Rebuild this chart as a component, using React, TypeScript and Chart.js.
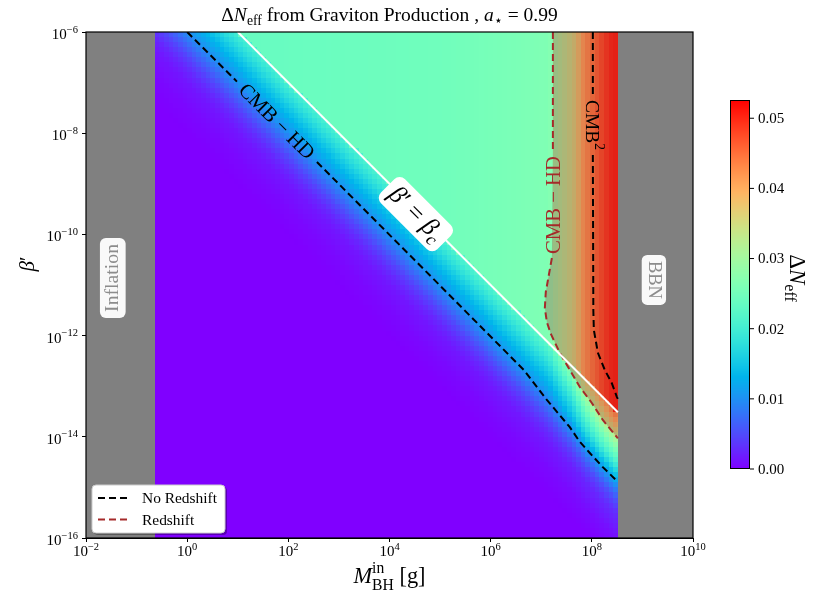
import { useEffect, useRef } from "react";
import { Chart, registerables } from "chart.js";

Chart.register(...registerables);

// ---------------- data ----------------
const xTickExps = [-2, 0, 2, 4, 6, 8, 10];
const yTickExps = [-16, -14, -12, -10, -8, -6];
const cbTickValues = [0.0, 0.01, 0.02, 0.03, 0.04, 0.05];
const cbMax = 0.0526;

// excluded bands, log10(M / g)
const inflationLogM = [-2, -0.64];
const bbnLogM = [8.514, 10];

// heat-map grid extent (log10) and resolution
const gridLogM = [-0.64, 8.514];
const gridLogBeta = [-16, -6];
const gridCols = 100;
const gridRows = 100;

// saturated ΔNeff (β' ≥ βc) along M
const satLogM = [-0.64, 1, 3, 5, 6.5, 7.1, 7.2, 7.3, 7.45, 7.58, 7.7, 7.8, 7.92, 8.05, 8.2, 8.35, 8.514];
const satDN = [0.0231, 0.0237, 0.0242, 0.0247, 0.0258, 0.0263, 0.0268, 0.0289, 0.031, 0.0331, 0.0358, 0.0395, 0.0421, 0.0447, 0.0473, 0.05, 0.051];

// fall-off below βc: depth in decades of β' vs fraction of the saturated value
const depthDec = [0, 0.1, 0.3, 0.5, 0.75, 1.0, 1.25, 1.5, 1.75, 2.0, 2.5, 3.0];
const depthFrac = [0.86, 0.82, 0.73, 0.63, 0.52, 0.42, 0.3, 0.19, 0.11, 0.06, 0.02, 0];

// β' = βc line
const betaCLogM = [1.0, 8.514];
const betaCLogB = [-6.0, -13.514];

// CMB-HD, no redshift (two pieces around the inline label)
const hdNoRsALogM = [0.0, 0.984];
const hdNoRsALogB = [-6.0, -6.98];
const hdNoRsBLogM = [2.565, 4.6, 6.656, 7.111, 7.565, 7.763, 7.96, 8.217, 8.514];
const hdNoRsBLogB = [-8.57, -10.61, -12.68, -13.27, -13.81, -14.1, -14.32, -14.6, -14.89];

// CMB², no redshift
const cmb2ALogM = [8.02, 8.02];
const cmb2ALogB = [-6.0, -7.245];
const cmb2BLogM = [8.02, 8.03, 8.04, 8.12, 8.257, 8.395, 8.494, 8.514];
const cmb2BLogB = [-8.43, -11.5, -11.89, -12.34, -12.68, -12.94, -13.21, -13.25];

// CMB-HD, with redshift
const hdRsALogM = [7.23, 7.23];
const hdRsALogB = [-6.0, -8.37];
const hdRsBLogM = [7.21, 7.15, 7.09, 7.071, 7.111, 7.19, 7.368, 7.565, 7.763, 8.0, 8.217, 8.494, 8.514];
const hdRsBLogB = [-10.466, -10.802, -11.138, -11.455, -11.731, -11.968, -12.344, -12.68, -13.016, -13.332, -13.668, -14.004, -14.03];

const legendLabels = ["No Redshift", "Redshift"];

// ---------------- helpers ----------------
const BLACK = "#000000";
const BROWN = "#a52a2a";
const SERIF = '"Liberation Serif", "DejaVu Serif", serif';

function pts(lm: number[], lb: number[]) {
  return lm.map((m, i) => ({ x: Math.pow(10, m), y: Math.pow(10, lb[i]) }));
}

function interp(xs: number[], ys: number[], v: number, extrap = false) {
  const n = xs.length;
  if (!extrap) {
    if (v <= xs[0]) return ys[0];
    if (v >= xs[n - 1]) return ys[n - 1];
  }
  let i = 0;
  while (i < n - 2 && v > xs[i + 1]) i++;
  const t = (v - xs[i]) / (xs[i + 1] - xs[i]);
  return ys[i] + t * (ys[i + 1] - ys[i]);
}

function rainbow(t: number) {
  t = Math.max(0, Math.min(1, t));
  const r = Math.min(1, Math.abs(2 * t - 0.5));
  const g = Math.max(0, Math.sin(Math.PI * t));
  const b = Math.max(0, Math.cos((Math.PI * t) / 2));
  return `rgb(${Math.round(r * 255)},${Math.round(g * 255)},${Math.round(b * 255)})`;
}

type Seg = { t: string; it?: boolean; sc?: number; dy?: number; t2?: string; dy2?: number };

function segFont(s: Seg, size: number) {
  return `${s.it ? "italic " : ""}${(size * (s.sc ?? 1)).toFixed(2)}px ${SERIF}`;
}
function segWidth(ctx: any, s: Seg, size: number) {
  ctx.font = segFont(s, size);
  let w = ctx.measureText(s.t).width;
  if (s.t2) w = Math.max(w, ctx.measureText(s.t2).width);
  return w;
}
function richWidth(ctx: any, segs: Seg[], size: number) {
  let w = 0;
  for (const s of segs) w += segWidth(ctx, s, size);
  return w;
}
function fitSize(ctx: any, segs: Seg[], target: number) {
  return (16 * target) / richWidth(ctx, segs, 16);
}

function drawRich(
  ctx: any,
  segs: Seg[],
  x: number,
  y: number,
  size: number,
  o: { rot?: number; align?: string; color?: string; middle?: boolean; box?: { fill: string; padX: number; padY: number } } = {}
) {
  ctx.save();
  ctx.translate(x, y);
  ctx.rotate(o.rot ?? 0);
  const w = richWidth(ctx, segs, size);
  let cx = o.align === "right" ? -w : o.align === "left" ? 0 : -w / 2;
  const by = o.middle ? size * 0.33 : 0;
  if (o.box) {
    const h = size * 1.1 + 2 * o.box.padY;
    ctx.beginPath();
    ctx.roundRect(cx - o.box.padX, -h / 2 + size * 0.05, w + 2 * o.box.padX, h, size * 0.3);
    ctx.fillStyle = o.box.fill;
    ctx.fill();
  }
  ctx.fillStyle = o.color ?? BLACK;
  ctx.textAlign = "left";
  ctx.textBaseline = "alphabetic";
  for (const s of segs) {
    ctx.font = segFont(s, size);
    ctx.fillText(s.t, cx, by + (s.dy ?? 0) * size);
    if (s.t2) ctx.fillText(s.t2, cx, by + (s.dy2 ?? 0) * size);
    cx += segWidth(ctx, s, size);
  }
  ctx.restore();
}

const expStr = (e: number) => (e < 0 ? "\u2212" + Math.abs(e) : String(e));

// ---------------- plugins ----------------
const heatPlugin = {
  id: "heat",
  beforeDatasetsDraw(chart: any) {
    const { ctx, chartArea: a, scales } = chart;
    const xs = scales.x;
    const ys = scales.y;
    ctx.save();
    ctx.beginPath();
    ctx.rect(a.left, a.top, a.right - a.left, a.bottom - a.top);
    ctx.clip();

    ctx.fillStyle = "#808080";
    for (const band of [inflationLogM, bbnLogM]) {
      const p0 = Math.round(xs.getPixelForValue(Math.pow(10, band[0])));
      const p1 = Math.round(xs.getPixelForValue(Math.pow(10, band[1])));
      ctx.fillRect(p0, a.top, p1 - p0, a.bottom - a.top);
    }

    const m0 = gridLogM[0];
    const dm = (gridLogM[1] - gridLogM[0]) / gridCols;
    const b0 = gridLogBeta[0];
    const db = (gridLogBeta[1] - gridLogBeta[0]) / gridRows;
    for (let i = 0; i < gridCols; i++) {
      const lm = m0 + (i + 0.5) * dm;
      const sat = interp(satLogM, satDN, lm);
      const lbc = interp(betaCLogM, betaCLogB, lm, true);
      const px0 = Math.round(xs.getPixelForValue(Math.pow(10, m0 + i * dm)));
      const px1 = Math.round(xs.getPixelForValue(Math.pow(10, m0 + (i + 1) * dm)));
      for (let j = 0; j < gridRows; j++) {
        const lb = b0 + (j + 0.5) * db;
        const d = lbc - lb;
        const frac = d <= 0 ? 1 : interp(depthDec, depthFrac, d);
        ctx.fillStyle = rainbow((sat * frac) / cbMax);
        const py0 = Math.round(ys.getPixelForValue(Math.pow(10, b0 + j * db)));
        const py1 = Math.round(ys.getPixelForValue(Math.pow(10, b0 + (j + 1) * db)));
        ctx.fillRect(px0, py1, px1 - px0, py0 - py1);
      }
    }

    // shaded region beyond the redshifted CMB-HD contour
    const poly = [...pts(hdRsALogM, hdRsALogB), ...pts(hdRsBLogM, hdRsBLogB), { x: Math.pow(10, gridLogM[1]), y: Math.pow(10, gridLogBeta[1]) }];
    ctx.beginPath();
    poly.forEach((p, k) => {
      const px = xs.getPixelForValue(p.x);
      const py = ys.getPixelForValue(p.y);
      if (k === 0) ctx.moveTo(px, py);
      else ctx.lineTo(px, py);
    });
    ctx.closePath();
    ctx.fillStyle = "rgba(165,42,42,0.3)";
    ctx.fill();
    ctx.restore();
  },
};

const labelPlugin = {
  id: "labels",
  afterDatasetsDraw(chart: any) {
    const { ctx, chartArea: a, scales } = chart;
    const X = (lm: number) => scales.x.getPixelForValue(Math.pow(10, lm));
    const Y = (lb: number) => scales.y.getPixelForValue(Math.pow(10, lb));
    const whiteBox = { fill: "rgba(255,255,255,0.95)", padX: 6, padY: 2 };

    const infl: Seg[] = [{ t: "Inflation" }];
    drawRich(ctx, infl, X(-1.49), Y(-10.86), fitSize(ctx, infl, 68), { rot: -Math.PI / 2, middle: true, color: "#8c8c8c", box: whiteBox });
    const bbn: Seg[] = [{ t: "BBN" }];
    drawRich(ctx, bbn, X(9.245), Y(-10.9), fitSize(ctx, bbn, 38), { rot: Math.PI / 2, middle: true, color: "#8c8c8c", box: whiteBox });

    const bc: Seg[] = [{ t: "\u03b2", it: true }, { t: "\u2032 = " }, { t: "\u03b2", it: true }, { t: "c", it: true, sc: 0.7, dy: 0.22 }];
    drawRich(ctx, bc, X(4.54), Y(-9.58), fitSize(ctx, bc, 66), { rot: Math.PI / 4, middle: true, box: { fill: "#ffffff", padX: 7, padY: 3 } });

    const hd: Seg[] = [{ t: "CMB \u2212 HD" }];
    drawRich(ctx, hd, X(1.775), Y(-7.76), fitSize(ctx, hd, 98), { rot: Math.PI / 4, middle: true });
    drawRich(ctx, hd, X(7.23), Y(-9.42), fitSize(ctx, hd, 98), { rot: -Math.PI / 2, middle: true, color: BROWN });

    const c2: Seg[] = [{ t: "CMB" }, { t: "2", sc: 0.7, dy: -0.42 }];
    drawRich(ctx, c2, X(8.02), Y(-7.84), fitSize(ctx, c2, 50), { rot: Math.PI / 2, middle: true });

    // legend
    const lx = a.left + 6;
    const ly = a.bottom - 53;
    ctx.save();
    ctx.fillStyle = "rgba(0,0,0,0.3)";
    ctx.beginPath();
    ctx.roundRect(lx + 2, ly + 2, 133, 48, 4);
    ctx.fill();
    ctx.fillStyle = "#ffffff";
    ctx.strokeStyle = "#cccccc";
    ctx.lineWidth = 1;
    ctx.beginPath();
    ctx.roundRect(lx, ly, 133, 48, 4);
    ctx.fill();
    ctx.stroke();
    const colors = [BLACK, BROWN];
    const lsize = fitSize(ctx, [{ t: legendLabels[0] }], 75);
    legendLabels.forEach((lab, k) => {
      const yy = ly + 13 + k * 21.5;
      ctx.strokeStyle = colors[k];
      ctx.lineWidth = 2;
      ctx.setLineDash([7, 4]);
      ctx.beginPath();
      ctx.moveTo(lx + 6, yy);
      ctx.lineTo(lx + 37, yy);
      ctx.stroke();
      ctx.setLineDash([]);
      drawRich(ctx, [{ t: lab }], lx + 50, yy, lsize, { align: "left", middle: true });
    });
    ctx.restore();
  },
};

const framePlugin = {
  id: "frame",
  afterDraw(chart: any) {
    const { ctx, chartArea: a, scales } = chart;
    ctx.save();
    ctx.strokeStyle = BLACK;
    ctx.lineWidth = 1.2;
    ctx.strokeRect(a.left, a.top, a.right - a.left, a.bottom - a.top);
    ctx.restore();

    for (const e of xTickExps) {
      const px = scales.x.getPixelForValue(Math.pow(10, e));
      drawRich(ctx, [{ t: "10" }, { t: expStr(e), sc: 0.7, dy: -0.42 }], px, a.bottom + 18, 15, {});
    }
    for (const e of yTickExps) {
      const py = scales.y.getPixelForValue(Math.pow(10, e));
      drawRich(ctx, [{ t: "10" }, { t: expStr(e), sc: 0.7, dy: -0.42 }], a.left - 8, py + 2, 15, { align: "right", middle: true });
    }

    const xl: Seg[] = [{ t: "M", it: true }, { t: "BH", sc: 0.7, dy: 0.3, t2: "in", dy2: -0.45 }, { t: " [g]" }];
    drawRich(ctx, xl, (a.left + a.right) / 2, 583, fitSize(ctx, xl, 72), {});
    const yl: Seg[] = [{ t: "\u03b2", it: true }, { t: "\u2032" }];
    drawRich(ctx, yl, 27, 264, 21, { rot: -Math.PI / 2, middle: true });

    const title: Seg[] = [
      { t: "\u0394" },
      { t: "N", it: true },
      { t: "eff", sc: 0.7, dy: 0.22 },
      { t: " from Graviton Production , " },
      { t: "a", it: true },
      { t: "\u22c6", sc: 0.7, dy: 0.22 },
      { t: " = 0.99" },
    ];
    drawRich(ctx, title, (a.left + a.right) / 2, 21, fitSize(ctx, title, 336), {});

    // colour bar
    const cl = 730, cr = 750, ct = 100, cb = 469;
    ctx.save();
    for (let py = ct; py < cb; py++) {
      ctx.fillStyle = rainbow((cb - py - 0.5) / (cb - ct));
      ctx.fillRect(cl, py, cr - cl, 1);
    }
    ctx.strokeStyle = BLACK;
    ctx.lineWidth = 1;
    ctx.strokeRect(cl + 0.5, ct + 0.5, cr - cl - 1, cb - ct - 1);
    for (const v of cbTickValues) {
      const py = cb - (v / cbMax) * (cb - ct);
      ctx.beginPath();
      ctx.moveTo(cr, py);
      ctx.lineTo(cr + 4, py);
      ctx.stroke();
      drawRich(ctx, [{ t: v.toFixed(2) }], cr + 8, py, 15, { align: "left", middle: true });
    }
    ctx.restore();
    const cbl: Seg[] = [{ t: "\u0394" }, { t: "N", it: true }, { t: "eff", sc: 0.7, dy: 0.22 }];
    drawRich(ctx, cbl, 798, 278, 23, { rot: Math.PI / 2, middle: true });
  },
};

// ---------------- component ----------------
export default function App() {
  const ref = useRef<HTMLCanvasElement | null>(null);

  useEffect(() => {
    if (!ref.current) return;
    const dashed = (data: any[], color: string) => ({
      data,
      borderColor: color,
      borderWidth: 2,
      borderDash: [7, 4],
      showLine: true,
      pointRadius: 0,
      fill: false,
    });
    const chart = new Chart(ref.current, {
      type: "scatter",
      data: {
        datasets: [
          { data: pts(betaCLogM, betaCLogB), borderColor: "#ffffff", borderWidth: 2, showLine: true, pointRadius: 0, fill: false },
          dashed(pts(hdNoRsALogM, hdNoRsALogB), BLACK),
          dashed(pts(hdNoRsBLogM, hdNoRsBLogB), BLACK),
          dashed(pts(cmb2ALogM, cmb2ALogB), BLACK),
          dashed(pts(cmb2BLogM, cmb2BLogB), BLACK),
          dashed(pts(hdRsALogM, hdRsALogB), BROWN),
          dashed(pts(hdRsBLogM, hdRsBLogB), BROWN),
        ],
      } as any,
      options: {
        responsive: false,
        animation: false,
        events: [],
        layout: { padding: { top: 32, right: 130, left: 0, bottom: 0 } },
        plugins: { legend: { display: false }, tooltip: { enabled: false } },
        scales: {
          x: {
            type: "logarithmic",
            min: Math.pow(10, xTickExps[0]),
            max: Math.pow(10, xTickExps[xTickExps.length - 1]),
            afterBuildTicks: (s: any) => {
              s.ticks = xTickExps.map((e) => ({ value: Math.pow(10, e) }));
            },
            afterFit: (s: any) => {
              s.height = 68;
            },
            ticks: { display: false },
            grid: { drawOnChartArea: false, drawTicks: true, tickLength: 4, color: BLACK, tickWidth: 1 },
            border: { display: true, color: BLACK, width: 1 },
          },
          y: {
            type: "logarithmic",
            min: Math.pow(10, yTickExps[0]),
            max: Math.pow(10, yTickExps[yTickExps.length - 1]),
            afterBuildTicks: (s: any) => {
              s.ticks = yTickExps.map((e) => ({ value: Math.pow(10, e) }));
            },
            afterFit: (s: any) => {
              s.width = 86;
            },
            ticks: { display: false },
            grid: { drawOnChartArea: false, drawTicks: true, tickLength: 4, color: BLACK, tickWidth: 1 },
            border: { display: true, color: BLACK, width: 1 },
          },
        },
      } as any,
      plugins: [heatPlugin, labelPlugin, framePlugin],
    });
    return () => chart.destroy();
  }, []);

  return (
    <div style={{ position: "fixed", left: 0, top: 0, width: 823, height: 606, background: "#ffffff" }}>
      <canvas ref={ref} width={823} height={606} style={{ display: "block", width: 823, height: 606 }} />
    </div>
  );
}
